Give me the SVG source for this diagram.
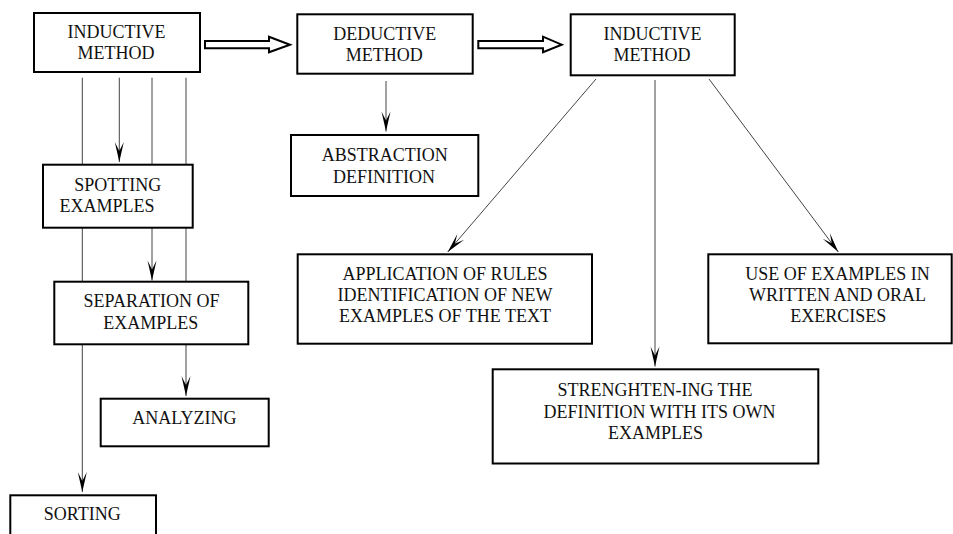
<svg xmlns="http://www.w3.org/2000/svg" width="953" height="534" viewBox="0 0 953 534">
<style>
  .box { fill: #fff; stroke: #000; stroke-width: 2; }
  .lbl { font-family: 'Liberation Serif', 'DejaVu Serif', serif; font-size: 18px; fill: #111; text-anchor: middle; }
  .con { fill: none; stroke: #444; stroke-width: 1; }
  .big { fill: #fff; stroke: #000; stroke-width: 2; stroke-linejoin: miter; }
</style>
<defs>
  <marker id="ah" markerUnits="userSpaceOnUse" markerWidth="24" markerHeight="12" viewBox="-22 -6 24 12" refX="0" refY="0" orient="auto" overflow="visible">
    <path d="M0,0 L-20,-4.5 L-11,0 L-20,4.5 Z" fill="#000"/>
  </marker>
</defs>
<rect width="953" height="534" fill="#fff"/>
<g id="connectors">
  <line class="con" x1="82.3" y1="77.7" x2="82.3" y2="492" marker-end="url(#ah)"/>
  <line class="con" x1="119.3" y1="77.7" x2="119.3" y2="162" marker-end="url(#ah)"/>
  <line class="con" x1="152" y1="77.7" x2="152" y2="280.5" marker-end="url(#ah)"/>
  <line class="con" x1="186" y1="77.7" x2="186" y2="396" marker-end="url(#ah)"/>
  <line class="con" x1="386" y1="81" x2="386" y2="131.5" marker-end="url(#ah)"/>
  <line class="con" x1="596" y1="79" x2="447.7" y2="252" marker-end="url(#ah)"/>
  <line class="con" x1="655" y1="80" x2="655" y2="366.5" marker-end="url(#ah)"/>
  <line class="con" x1="709" y1="79" x2="838.3" y2="252" marker-end="url(#ah)"/>
  <path class="big" d="M205,41 L269,41 L269,36.7 L290,44.7 L269,52.3 L269,48.3 L205,48.3 Z"/>
  <path class="big" d="M478.3,41 L543,41 L543,36.7 L561.7,44.7 L543,52.3 L543,48.3 L478.3,48.3 Z"/>
</g>
<g font-family="Liberation Serif, DejaVu Serif, serif">
<g id="inductive1">
  <rect class="box" x="34" y="13" width="166" height="59"/>
  <text class="lbl" x="116.5" y="38.3">INDUCTIVE</text>
  <text class="lbl" x="116" y="59.3">METHOD</text>
</g>
<g id="spotting">
  <rect class="box" x="43" y="164.7" width="149.7" height="63"/>
  <text class="lbl" x="117.7" y="190.7">SPOTTING</text>
  <text class="lbl" x="107" y="212">EXAMPLES</text>
</g>
<g id="separation">
  <rect class="box" x="54.3" y="281.7" width="194" height="62.6"/>
  <text class="lbl" x="151.5" y="307.3">SEPARATION OF</text>
  <text class="lbl" x="150.8" y="328.7">EXAMPLES</text>
</g>
<g id="analyzing">
  <rect class="box" x="100.7" y="398.7" width="168" height="47.6"/>
  <text class="lbl" x="184.3" y="424">ANALYZING</text>
</g>
<g id="sorting">
  <rect class="box" x="10.3" y="495.3" width="145.7" height="50"/>
  <text class="lbl" x="82.3" y="520">SORTING</text>
</g>
<g id="deductive">
  <rect class="box" x="297.3" y="14.3" width="175.4" height="59.4"/>
  <text class="lbl" x="384.7" y="40">DEDUCTIVE</text>
  <text class="lbl" x="384.2" y="60.7">METHOD</text>
</g>
<g id="abstraction">
  <rect class="box" x="291" y="135" width="187.3" height="61"/>
  <text class="lbl" x="384.7" y="160.7">ABSTRACTION</text>
  <text class="lbl" x="384" y="182.7">DEFINITION</text>
</g>
<g id="inductive2">
  <rect class="box" x="570.7" y="14.3" width="164" height="61"/>
  <text class="lbl" x="652.5" y="40">INDUCTIVE</text>
  <text class="lbl" x="652" y="61">METHOD</text>
</g>
<g id="application">
  <rect class="box" x="297.7" y="254.3" width="294.3" height="89.4"/>
  <text class="lbl" x="445" y="280">APPLICATION OF RULES</text>
  <text class="lbl" x="445" y="300.7">IDENTIFICATION OF NEW</text>
  <text class="lbl" x="445" y="321.7">EXAMPLES OF THE TEXT</text>
</g>
<g id="use-examples">
  <rect class="box" x="708.3" y="254.3" width="243.4" height="89"/>
  <text class="lbl" x="837.5" y="280">USE OF EXAMPLES IN</text>
  <text class="lbl" x="837.5" y="301">WRITTEN AND ORAL</text>
  <text class="lbl" x="838.3" y="321.7">EXERCISES</text>
</g>
<g id="strengthening">
  <rect class="box" x="492.7" y="369.3" width="325.6" height="94.2"/>
  <text class="lbl" x="655" y="396">STRENGHTEN-ING THE</text>
  <text class="lbl" x="659.5" y="417.7">DEFINITION WITH ITS OWN</text>
  <text class="lbl" x="655.5" y="438.7">EXAMPLES</text>
</g>
</g>
</svg>
